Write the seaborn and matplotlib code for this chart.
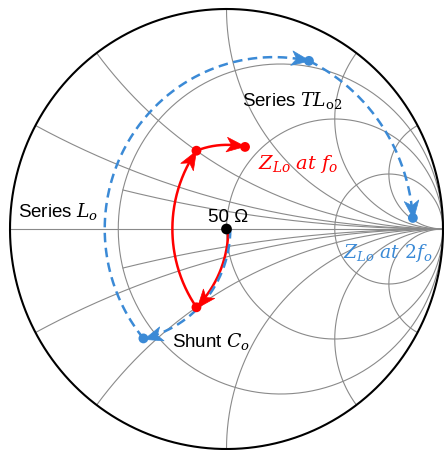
import numpy as np
import pandas as pd
import matplotlib
matplotlib.use("Agg")
import matplotlib.pyplot as plt
from matplotlib.path import Path
from matplotlib.markers import MarkerStyle
from matplotlib.transforms import Affine2D
import seaborn as sns

# ---------------- data ----------------
# Smith chart grid values (normalised)
r_circles = [1/3, 1.0, 3.0]
x_arcs_full = [0.25, 0.5, 1.0, 2.0, 4.0]
x_arcs_clipped = [0.16]          # arcs that start at r = 1/3
x_clip_start_r = 1/3

# matching path waypoints (normalised impedances)
# at f_o : 50 ohm -> shunt C -> series L -> series TL
z_f0 = [1 + 0j, 0.60 - 0.50j, 0.60 + 0.50j, 0.875 + 0.765j]
# at 2 f_o
z_2f0 = [1 + 0j, 0.28 - 0.46j, 0.28 + 1.58j, 11.7 + 4.6j]

RED = "#ff0000"
BLUE = "#3b8ad6"
GRID = "#8a8a8a"

sns.set_theme(style="white")
plt.rcParams["font.family"] = ["Liberation Sans", "DejaVu Sans"]
plt.rcParams["mathtext.fontset"] = "custom"
plt.rcParams["mathtext.rm"] = "DejaVu Serif"
plt.rcParams["mathtext.it"] = "DejaVu Serif:italic"
plt.rcParams["text.color"] = "black"

fig = plt.figure(figsize=(4.44, 4.50), dpi=100)
ax = fig.add_axes([0, 0, 1, 1])
ax.set_xlim(-1.0462, 1.0046)
ax.set_ylim(-1.0045, 1.0409)
ax.axis("off")


def gam(z):
    z = np.asarray(z, dtype=complex)
    return (z - 1) / (z + 1)


def px(xp, yp):
    return ((xp - 226.5) / 216.5, (229 - yp) / 220)


def line(g, **kw):
    df = pd.DataFrame({"x": np.real(g), "y": np.imag(g)})
    sns.lineplot(data=df, x="x", y="y", sort=False, estimator=None, ax=ax, **kw)


t = np.linspace(0, 2 * np.pi, 600)
# resistance circles
for r in r_circles:
    c, rad = r / (1 + r), 1 / (1 + r)
    line(c + rad * np.exp(1j * t), color=GRID, lw=0.8, zorder=1)
# real axis
line(np.array([-1, 1]) + 0j, color=GRID, lw=0.8, zorder=1)
# reactance arcs
rr = np.concatenate([[0], np.logspace(-3, 4, 800)])
for xv in x_arcs_full:
    for s in (1, -1):
        line(gam(rr + 1j * s * xv), color=GRID, lw=0.8, zorder=1)
rr2 = np.concatenate([np.linspace(x_clip_start_r, 5, 200), np.logspace(0.7, 4, 200)])
for xv in x_arcs_clipped:
    for s in (1, -1):
        line(gam(rr2 + 1j * s * xv), color=GRID, lw=0.8, zorder=1)
# outer circle
line(np.exp(1j * t), color="black", lw=1.5, zorder=2)


def path_segments(zs, n=200):
    """shunt C (const g), series L (const r), TL (const |G|)."""
    segs = []
    y0, y1 = 1 / zs[0], 1 / zs[1]
    b = np.linspace(y0.imag, y1.imag, n)
    segs.append(gam(1 / (y1.real + 1j * b)))
    xs = np.linspace(zs[1].imag, zs[2].imag, n)
    segs.append(gam(zs[1].real + 1j * xs))
    g2, g3 = gam(zs[2]), gam(zs[3])
    a2, a3 = np.angle(g2), np.angle(g3)
    m = np.linspace(abs(g2), abs(g3), n)
    segs.append(m * np.exp(1j * np.linspace(a2, a3, n)))
    return segs


# stealth arrow-head marker
head = Path([(1, 0), (-0.9, 0.75), (-0.4, 0), (-0.9, -0.75), (1, 0)],
            [Path.MOVETO, Path.LINETO, Path.LINETO, Path.LINETO, Path.CLOSEPOLY])


def arrowhead(seg, color):
    d = ax.transData.transform(np.column_stack([seg.real, seg.imag]))
    L = np.concatenate([[0], np.cumsum(np.hypot(*np.diff(d, axis=0).T))])
    tip_len = L[-1] - 6
    i = np.searchsorted(L, tip_len)
    j = np.searchsorted(L, tip_len - 8)
    v = d[i] - d[j]
    ang = np.degrees(np.arctan2(v[1], v[0]))
    pos = seg[i] - (seg[i] - seg[j]) * 0.5
    mk = MarkerStyle(head, transform=Affine2D().rotate_deg(ang))
    ax.plot([pos.real], [pos.imag], marker=mk, ms=14, color=color,
            mec=color, mew=0.5, zorder=6, ls="none")


red_segs = path_segments(z_f0)
blue_segs = path_segments(z_2f0)

for s in red_segs:
    line(s, color=RED, lw=1.8, zorder=3)
for s in blue_segs:
    line(s, color=BLUE, lw=1.8, zorder=4, linestyle=(0, (3.8, 2.2)))

for s in red_segs:
    arrowhead(s, RED)
for s in blue_segs:
    arrowhead(s, BLUE)

gr = gam(np.array(z_f0[1:]))
gb = gam(np.array(z_2f0[1:]))
sns.scatterplot(x=gr.real, y=gr.imag, color=RED, s=50, edgecolor="none", zorder=7, ax=ax)
sns.scatterplot(x=gb.real, y=gb.imag, color=BLUE, s=50, edgecolor="none", zorder=7, ax=ax)
sns.scatterplot(x=[0], y=[0], color="black", s=60, edgecolor="none", zorder=8, ax=ax)

# labels
fs = 13.5
ax.text(*px(18, 217), r"Series $L_o$", fontsize=fs, va="baseline", ha="left")
ax.text(*px(228, 222), "50 Ω", fontsize=fs, va="baseline", ha="center")
ax.text(*px(242, 106), r"Series $TL_{\mathrm{o2}}$", fontsize=fs, va="baseline", ha="left")
ax.text(*px(172, 347), r"Shunt $C_o$", fontsize=fs, va="baseline", ha="left")
ax.text(*px(258, 169), r"$Z_{Lo}\ at\ f_o$", fontsize=14, color=RED, va="baseline", ha="left")
ax.text(*px(343, 258), r"$Z_{Lo}\ at\ 2f_o$", fontsize=13.5, color=BLUE, va="baseline", ha="left")

fig.savefig("out.png", dpi=100)
